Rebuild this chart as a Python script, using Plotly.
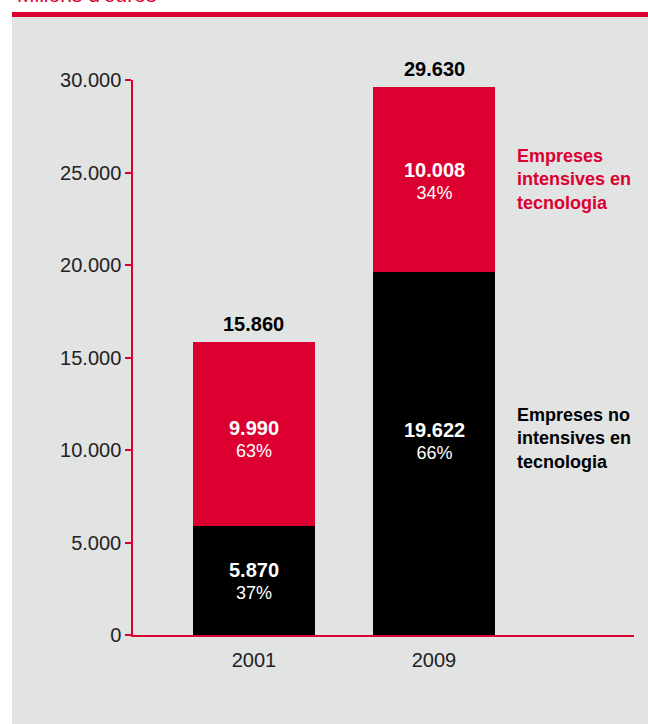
import plotly.graph_objects as go

years = ["2001", "2009"]
no_intensive = [5870, 19622]
intensive = [9990, 10008]
totals = [15860, 29630]
series_names = ["Empreses no intensives en tecnologia", "Empreses intensives en tecnologia"]
y_ticks = [0, 5000, 10000, 15000, 20000, 25000, 30000]

# pixel nudges of the in-bar labels (as placed in the original design)
shift_no = [0, 13]
shift_in = [-5, -2]

RED = "#dc0031"
GREY = "#e2e3e3"
FONT = "Liberation Sans, Arial, sans-serif"

def fmt(v):
    return f"{v:,}".replace(",", ".")

pct_no = [round(a / t * 100) for a, t in zip(no_intensive, totals)]
pct_in = [round(b / t * 100) for b, t in zip(intensive, totals)]

def seg_label(v, p):
    return f"<span style='font-size:20px'><b>{fmt(v)}</b></span><br><span style='font-size:18px'>{p}%</span>"

fig = go.Figure()
fig.add_trace(go.Bar(
    x=years, y=no_intensive, name=series_names[0], marker=dict(color="#000000", line=dict(width=0)),
    width=0.678, hoverinfo="skip",
))
fig.add_trace(go.Bar(
    x=years, y=intensive, name=series_names[1], marker=dict(color=RED, line=dict(width=0)),
    width=0.678, hoverinfo="skip",
))

annotations = []
for i, (a, b, t) in enumerate(zip(no_intensive, intensive, totals)):
    annotations.append(dict(x=i, y=a / 2, xref="x", yref="y", text=seg_label(a, pct_no[i]),
                            showarrow=False, yanchor="middle", yshift=shift_no[i],
                            font=dict(size=17, color="white", family=FONT)))
    annotations.append(dict(x=i, y=a + b / 2, xref="x", yref="y", text=seg_label(b, pct_in[i]),
                            showarrow=False, yanchor="middle", yshift=shift_in[i],
                            font=dict(size=17, color="white", family=FONT)))
    annotations.append(dict(x=i, y=t, xref="x", yref="y", text=f"<b>{fmt(t)}</b>",
                            showarrow=False, yanchor="bottom", yshift=5,
                            font=dict(size=20, color="black", family=FONT)))

# series labels on the right
annotations.append(dict(x=1.45, xref="x", y=(totals[1] - intensive[1] / 2), yref="y",
                        text="<b>Empreses<br>intensives en<br>tecnologia</b>", align="left",
                        xanchor="left", yanchor="middle", showarrow=False,
                        font=dict(size=18, color=RED, family=FONT)))
annotations.append(dict(x=1.45, xref="x", y=no_intensive[1] / 2, yref="y", yshift=15,
                        text="<b>Empreses no<br>intensives en<br>tecnologia</b>", align="left",
                        xanchor="left", yanchor="middle", showarrow=False,
                        font=dict(size=18, color="black", family=FONT)))

# cut-off unit title at top
annotations.append(dict(x=(15 - 133) / 501, xref="paper", y=(635 + 6) / 555, yref="paper",
                        text="Milions d'euros", showarrow=False, xanchor="left", yanchor="middle",
                        font=dict(size=21, color=RED, family=FONT)))

shapes = [
    dict(type="rect", xref="paper", yref="paper", x0=(12 - 133) / 501, x1=(660 - 133) / 501,
         y0=(635 - 730) / 555, y1=(635 - 17) / 555, fillcolor=GREY, line=dict(width=0), layer="below"),
    dict(type="rect", xref="paper", yref="paper", x0=(12 - 133) / 501, x1=(660 - 133) / 501,
         y0=(635 - 17) / 555, y1=(635 - 12) / 555, fillcolor=RED, line=dict(width=0), layer="below"),
]

fig.update_layout(
    barmode="stack",
    width=648, height=724,
    margin=dict(l=133, r=14, t=80, b=89),
    paper_bgcolor="white",
    plot_bgcolor="rgba(0,0,0,0)",
    showlegend=False,
    separators=",.",
    font=dict(family=FONT, size=20, color="black"),
    annotations=annotations,
    shapes=shapes,
    xaxis=dict(type="category", range=[-0.672, 2.111], showline=True, linecolor=RED, linewidth=1.5,
               ticks="outside", ticklen=6, tickcolor="rgba(0,0,0,0)", showgrid=False,
               tickfont=dict(size=20, color="#222", family=FONT), zeroline=False, fixedrange=True),
    yaxis=dict(range=[0, 30000], tickvals=y_ticks, ticktext=[fmt(v) for v in y_ticks],
               showline=True, linecolor=RED, linewidth=1.5, ticks="outside", ticklen=6,
               tickcolor=RED, tickwidth=1.5, showgrid=False, zeroline=False,
               tickfont=dict(size=20, color="#222", family=FONT), fixedrange=True),
)

fig.write_html("out.html", config={"displayModeBar": False},
               post_script="document.body.style.margin='0';")
